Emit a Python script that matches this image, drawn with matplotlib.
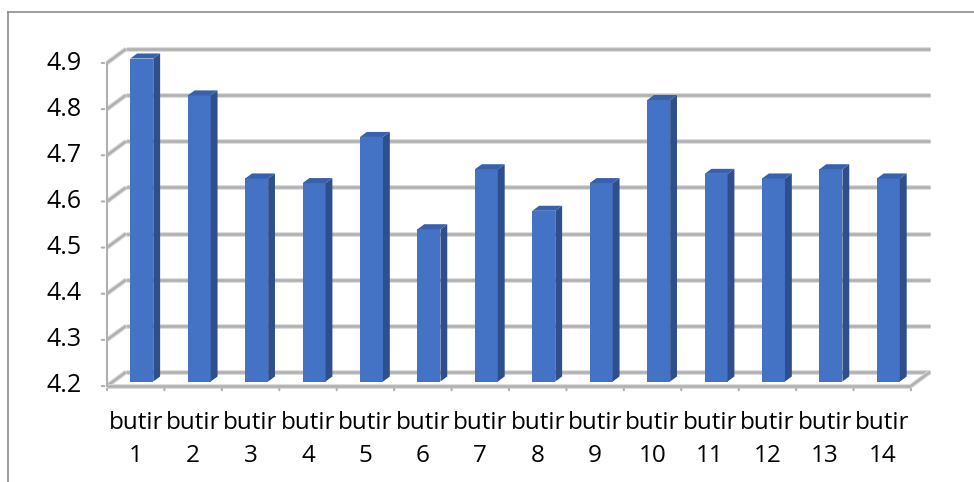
import numpy as np
import matplotlib
matplotlib.use("Agg")
import matplotlib.pyplot as plt
from matplotlib.patches import Polygon
from matplotlib.lines import Line2D
from matplotlib.transforms import offset_copy

labels = [f"butir\n{i}" for i in range(1, 15)]
values = [4.90, 4.82, 4.64, 4.63, 4.73, 4.53, 4.66, 4.57, 4.63, 4.81, 4.65, 4.64, 4.66, 4.64]
yticks = [4.2, 4.3, 4.4, 4.5, 4.6, 4.7, 4.8, 4.9]

W, H = 974, 482
fig = plt.figure(figsize=(W / 100, H / 100), dpi=100)
plt.rcParams['font.family'] = ['Open Sans', 'DejaVu Sans']

# front plane in pixels
x0, x1 = 107, 911
ytop, ybot = 63, 386
ax = fig.add_axes([x0 / W, (H - ybot) / H, (x1 - x0) / W, (ybot - ytop) / H])
n = len(values)
ax.set_xlim(0, n)
ax.set_ylim(yticks[0], yticks[-1])
ax.axis('off')

# depth offset (19 px right, 14 px up) in data units
px_x = (x1 - x0) / n
px_y = (ybot - ytop) / (yticks[-1] - yticks[0])
dx = 19 / px_x
dy = 14 / px_y

grid_c = '#b0b0b0'
def gline(xs, ys, z=1):
    ax.plot(xs, ys, color='#d8d8d8', lw=3.4, solid_capstyle='butt', clip_on=False, zorder=z)
    ax.plot(xs, ys, color=grid_c, lw=1.8, solid_capstyle='butt', clip_on=False, zorder=z)

# back wall + side wall gridlines
for v in yticks:
    gline([dx, n + dx], [v + dy, v + dy])
    gline([0, dx], [v, v + dy])
# floor
gline([0, n], [yticks[0], yticks[0]], z=1)
gline([n, n + dx], [yticks[0], yticks[0] + dy])
# y axis line
ax.plot([0, 0], [yticks[0], yticks[-1]], color=grid_c, lw=1.5, clip_on=False, zorder=2)

# ticks
for v in yticks:
    ax.annotate('', xy=(0, v), xytext=(-8, 0), textcoords='offset pixels',
                arrowprops=dict(arrowstyle='-', color=grid_c, lw=1.5), annotation_clip=False)
    ax.text(0, v, f"{v:.1f}", transform=offset_copy(ax.transData, fig, x=-25, y=0, units='dots'),
            ha='right', va='center', fontsize=18, color='black')
for i in range(n + 1):
    ax.annotate('', xy=(i, yticks[0]), xytext=(0, -7), textcoords='offset pixels',
                arrowprops=dict(arrowstyle='-', color=grid_c, lw=1.5), annotation_clip=False)
for i, lab in enumerate(labels):
    for k, part in enumerate(lab.split("\n")):
        ax.text(i + 0.5, yticks[0], part,
                transform=offset_copy(ax.transData, fig, x=0, y=-43 - 33 * k, units='dots'),
                ha='center', va='baseline', fontsize=17.5, color='black')

# bars
f0, f1 = 0.32, 0.68
bw = 0.2
base = yticks[0]
for i, v in enumerate(values):
    c = i + 0.5
    L = c - bw + f0 * dx
    R = c + bw + f0 * dx
    R2 = c + bw + f1 * dx
    L2 = c - bw + f1 * dx
    front = Polygon([(L, base + f0 * dy), (R, base + f0 * dy), (R, v + f0 * dy), (L, v + f0 * dy)],
                    closed=True, fc='#4472c4', ec='none', zorder=5, clip_on=False)
    side = Polygon([(R, base + f0 * dy), (R2, base + f1 * dy), (R2, v + f1 * dy), (R, v + f0 * dy)],
                   closed=True, fc='#2e4f8c', ec='none', zorder=5, clip_on=False)
    top = Polygon([(L, v + f0 * dy), (R, v + f0 * dy), (R2, v + f1 * dy), (L2, v + f1 * dy)],
                  closed=True, fc='#3861ad', ec='none', zorder=5, clip_on=False)
    for p in (front, side, top):
        ax.add_patch(p)

# outer border
fig.add_artist(Line2D([8 / W, 1], [1 - 12 / H, 1 - 12 / H], color='#8c8c8c', lw=1.2))
fig.add_artist(Line2D([8 / W, 8 / W], [0, 1 - 12 / H], color='#8c8c8c', lw=1.2))

fig.savefig("out.png", dpi=100)
